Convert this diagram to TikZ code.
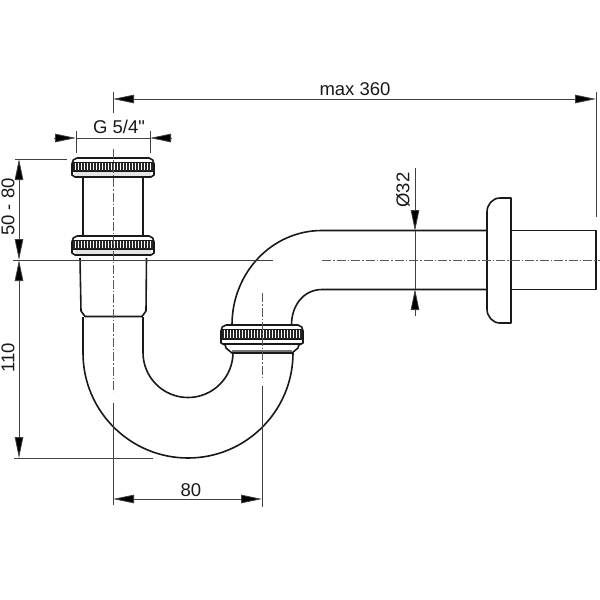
\documentclass[tikz,border=0pt]{standalone}
\usepackage{fontspec}
\newfontfamily\dimfont{Liberation Sans}
\usetikzlibrary{arrows.meta}
\tikzset{
  part/.style={line width=1.6pt,line join=round,draw=black!90},
  thin dim/.style={line width=0.8pt,draw=black!75},
  dimline/.style={thin dim,{Triangle[length=21pt,width=8.5pt,fill=black]}-{Triangle[length=21pt,width=8.5pt,fill=black]}},
  tipend/.style={thin dim,-{Triangle[length=21pt,width=8.5pt,fill=black]}},
  axis/.style={line width=0.9pt,draw=black!65,dash pattern=on 9pt off 2pt on 1.5pt off 2pt},
  dimtext/.style={font=\dimfont\fontsize{18.5}{18.5}\selectfont,inner sep=0pt,text=black!90}
}
% knurled nut: #1 centre x, #2 top y
\newcommand{\knurlnut}[2]{%
  \begin{scope}[shift={(#1,#2)}]
    \fill[black!10] (-38,14) rectangle (38,19);
    \draw[part] (-36,0) -- (36,0) to[out=0,in=90] (41,6) -- (41,13) -- (-41,13) -- (-41,6) to[out=90,in=180] (-36,0);
    \draw[part,line width=1pt] (-40,4) -- (40,4);
    \foreach \k in {-39,-36,...,39} \draw[line width=1.4pt,black!85] (\k,4.5) -- (\k,12.5);
    \draw[part] (-41,13) -- (-41,17) -- (-38,19) -- (38,19) -- (41,17) -- (41,13);
  \end{scope}}
\begin{document}
\begin{tikzpicture}[x=1pt,y=-1pt]
\useasboundingbox (0,0) rectangle (600,600);
\fill[white] (0,0) rectangle (600,600);
% key points
\coordinate (cL) at (113,99);
\coordinate (cR) at (596,99);
\coordinate (gL) at (76,138);
\coordinate (gR) at (150,138);
\coordinate (gLo) at (54,138);
\coordinate (gRo) at (172,138);
\coordinate (vT) at (19,159);
\coordinate (vM) at (19,260);
\coordinate (vB) at (19,458);
\coordinate (bL) at (113,499);
\coordinate (bR) at (262,499);
\coordinate (dT) at (415,231);
\coordinate (dB) at (415,289);
\coordinate (dTo) at (415,168);
\coordinate (dBo) at (415,316);
% upper tube and collar
\draw[part] (83,177) -- (83,235);
\draw[part] (143,177) -- (143,235);
\draw[part] (80,258) -- (81,311) -- (85,316.5) -- (142,316.5) -- (146,311) -- (146.5,258);
% U bend
\draw[part] (83,317) -- (83,353) arc[start angle=180,end angle=0,radius=105] -- (293,345);
\draw[part] (143,317) -- (143,352.5) arc[start angle=180,end angle=0,radius=45] -- (233,345);
% upper bend into horizontal pipe
\draw[part] (232,325) .. controls (232,272.6) and (272,230.5) .. (322,230.5) -- (487,230.5);
\draw[part] (291.5,325) .. controls (291.5,305) and (304,289.5) .. (322,289.5) -- (487,289.5);
\draw[part] (511,230.5) -- (596,230.5) -- (596,289.5) -- (511,289.5);
% flange
\draw[part] (511,198) -- (500,198) to[out=180,in=90] (487,212) -- (487,309) to[out=-90,in=180] (500,323) -- (511,323) -- cycle;
% nuts
\knurlnut{113}{158}
\knurlnut{113}{236}
\begin{scope}[shift={(262,325)}]
  \fill[white] (-41,0) rectangle (41,28);
  \fill[black!55] (-30,25) rectangle (30,28);
  \draw[part] (-36,0) -- (36,0) to[out=0,in=90] (41,6) -- (41,14) -- (-41,14) -- (-41,6) to[out=90,in=180] (-36,0);
  \draw[part,line width=1pt] (-40,4) -- (40,4);
  \foreach \k in {-39,-36,...,39} \draw[line width=1.4pt,black!85] (\k,4.5) -- (\k,13.5);
  \draw[part] (-41,14) -- (-41,18) -- (-37,20) (41,14) -- (41,18) -- (37,20) (-39,19) -- (39,19);
  \draw[part] (-37,19) -- (-36,23) -- (-30,28) -- (30,28) -- (36,23) -- (37,19);
\end{scope}
% axes
\draw[axis] (113,149) -- (113,392);
\draw[axis] (262,293) -- (262,377);
\draw[axis] (322,260) -- (600,260);
% extension lines
\draw[thin dim] (113,92) -- (113,113);
\draw[thin dim] (596,92) -- (596,217);
\draw[thin dim] (76,131) -- (76,153);
\draw[thin dim] (150,131) -- (150,153);
\draw[thin dim] (15,159) -- (67,159);
\draw[thin dim] (13,260) -- (273,260);
\draw[thin dim] (14,458) -- (153,458);
\draw[thin dim] (113,403) -- (113,505);
\draw[thin dim] (262,386) -- (262,507);
% dimensions
\draw[dimline] (cL) -- (cR);
\draw[thin dim] (gL) -- (gR);
\draw[tipend] (gLo) -- (gL);
\draw[tipend] (gRo) -- (gR);
\draw[dimline] (vT) -- (vM);
\draw[dimline] (vM) -- (vB);
\draw[dimline] (bL) -- (bR);
\draw[thin dim] (dT) -- (dB);
\draw[tipend] (dTo) -- (dT);
\draw[tipend] (dBo) -- (dB);
% labels
\node[dimtext] (lmax) at (355,89) {max 360};
\node[dimtext] (lg) at (119,126.5) {G 5/4"};
\node[dimtext,rotate=90] (l50) at (8,207) {50 - 80};
\node[dimtext,rotate=90] (l110) at (8,358) {110};
\node[dimtext] (l80) at (191,490) {80};
\node[dimtext,rotate=90] (l32) at (403,190) {Ø32};
\end{tikzpicture}
\end{document}
